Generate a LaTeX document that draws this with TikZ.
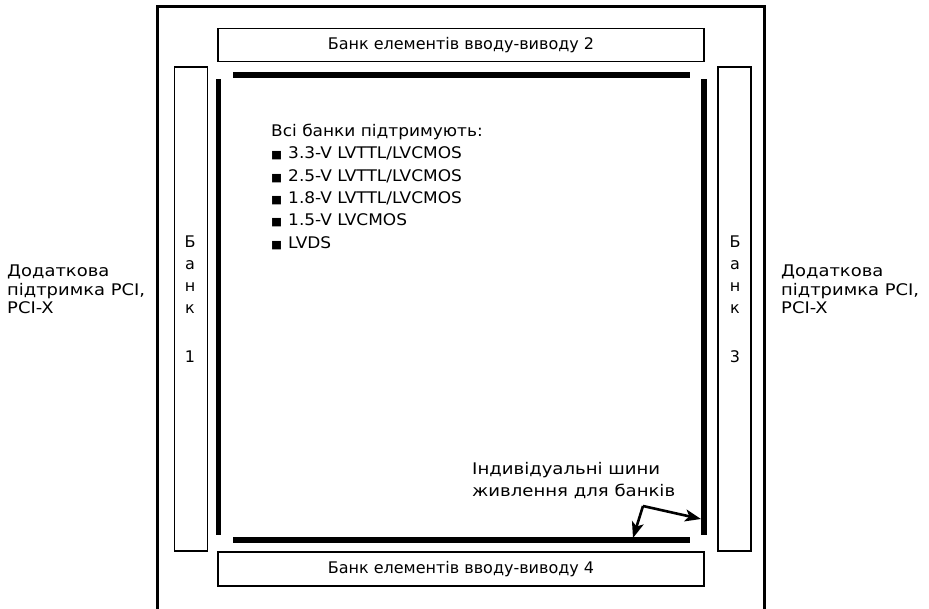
\documentclass[tikz,border=0pt]{standalone}
\usepackage{fontspec}
\setmainfont{DejaVu Sans}
\newfontfamily\wideA[FakeStretch=1.12]{DejaVu Sans}
\newfontfamily\wideB[FakeStretch=1.06]{DejaVu Sans}
\newfontfamily\wideC[FakeStretch=1.13]{DejaVu Sans}
\usetikzlibrary{arrows.meta}
\tikzset{
  bankbox/.style={draw, line width=1.3pt, inner sep=0pt},
  bar/.style={fill=black, inner sep=0pt, outer sep=0pt},
  lbl/.style={inner sep=0pt, align=left},
  vlbl/.style={inner sep=0pt, align=center, font=\fontsize{16}{21.8}\selectfont},
  ptr/.style={line width=2.6pt, -{Stealth[length=16pt,width=12pt,inset=4pt]}}
}
\newcommand{\bul}{{\fontsize{11}{11}\selectfont ■}\hspace{6pt}}
\begin{document}
\begin{tikzpicture}[x=1pt,y=-1pt]
\useasboundingbox (0,0) rectangle (929,609);
% outer frame
\draw[line width=3pt] (157,609) -- (157,7) -- (764,7) -- (764,609);
% bank boxes
\node[bankbox, minimum width=486pt, minimum height=33pt, font=\fontsize{16}{18}\selectfont] (b2) at (461,45) {Банк елементів вводу-виводу 2};
\node[bankbox, minimum width=486pt, minimum height=34pt, font=\fontsize{16}{18}\selectfont] (b4) at (461,569) {Банк елементів вводу-виводу 4};
\node[bankbox, minimum width=33pt, minimum height=484pt] (b1) at (191,309) {};
\node[bankbox, minimum width=33pt, minimum height=484pt] (b3) at (734.5,309) {};
\node[vlbl, anchor=north] (t1) at (190,236) {Б\\а\\н\\к\\[27pt]1};
\node[vlbl, anchor=north] (t3) at (735,236) {Б\\а\\н\\к\\[27pt]3};
% power bars
\node[bar, minimum width=457pt, minimum height=6pt] (p2) at (461.5,75) {};
\node[bar, minimum width=457pt, minimum height=6pt] (p4) at (461.5,540) {};
\node[bar, minimum width=5.5pt, minimum height=456pt] (p1) at (218.5,307) {};
\node[bar, minimum width=5.5pt, minimum height=456pt] (p3) at (704,307) {};
% list
\node[lbl, anchor=north west, font=\wideB\fontsize{16}{22.3}\selectfont] (list) at (271,124)
  {Всі банки підтримують:\\
   \bul 3.3-V LVTTL/LVCMOS\\
   \bul 2.5-V LVTTL/LVCMOS\\
   \bul 1.8-V LVTTL/LVCMOS\\
   \bul 1.5-V LVCMOS\\
   \bul LVDS};
% side notes
\node[lbl, anchor=north west, font=\wideA\fontsize{16}{18.5}\selectfont] (nl) at (7,265) {Додаткова\\підтримка PCI,\\PCI-X};
\node[lbl, anchor=north west, font=\wideA\fontsize{16}{18.5}\selectfont] (nr) at (781,265) {Додаткова\\підтримка PCI,\\PCI-X};
% power rail note
\node[lbl, anchor=north west, font=\wideC\fontsize{16}{22}\selectfont] (pw) at (472,462) {Індивідуальні шини\\живлення для банків};
\coordinate (j) at (643,506);
\coordinate (e4) at (633,538);
\coordinate (e3) at (701,519);
\draw[ptr] (j) -- (e4);
\draw[ptr] (j) -- (e3);
\end{tikzpicture}
\end{document}
